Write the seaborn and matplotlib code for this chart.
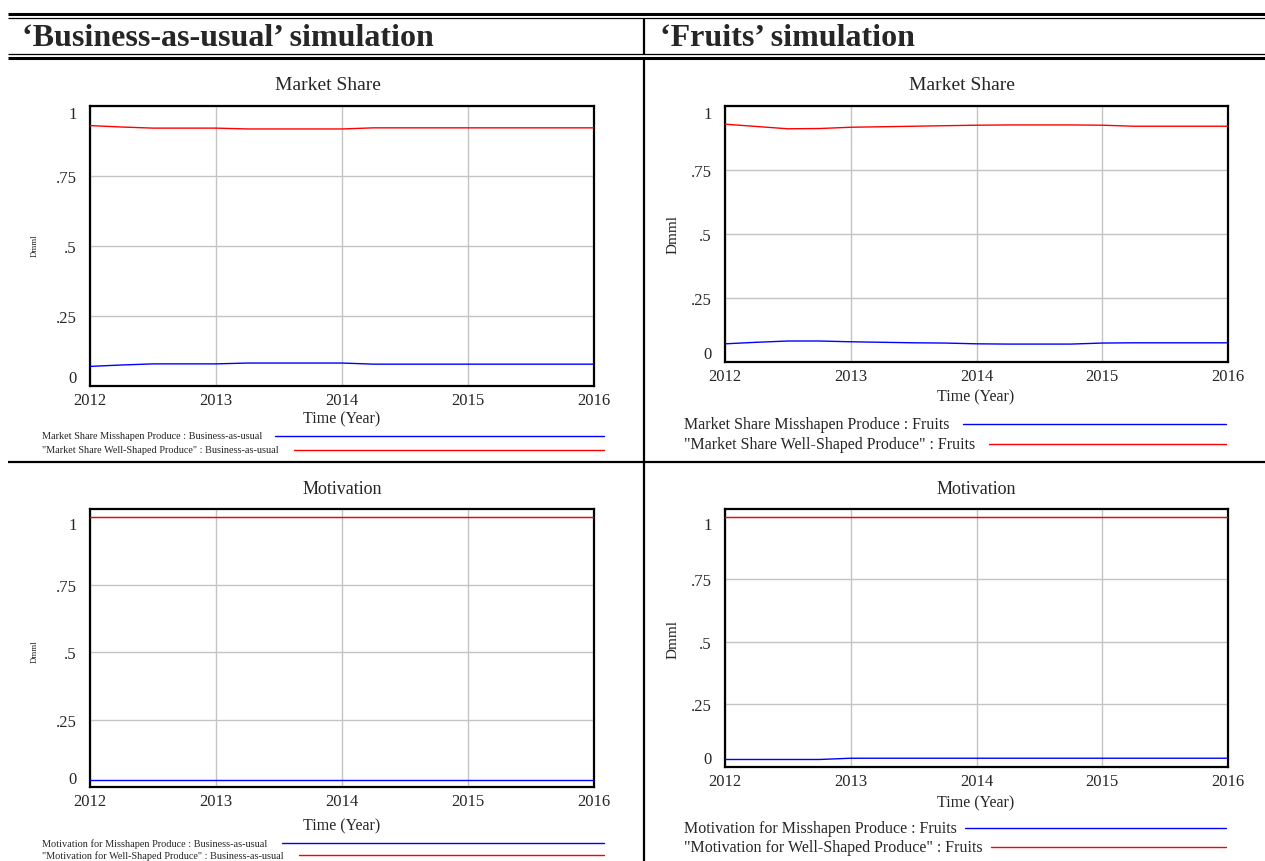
import numpy as np
import pandas as pd
import matplotlib
matplotlib.use("Agg")
import matplotlib.pyplot as plt
import seaborn as sns
from matplotlib.lines import Line2D

# ---------------- data ----------------
years = [2012.0, 2012.25, 2012.5, 2012.75, 2013.0, 2013.25, 2013.5, 2013.75, 2014.0,
         2014.25, 2014.5, 2014.75, 2015.0, 2015.25, 2015.5, 2015.75, 2016.0]

ms_mis_bau = [0.070, 0.075, 0.079, 0.079, 0.079, 0.082, 0.082, 0.082, 0.082,
              0.078, 0.078, 0.078, 0.078, 0.078, 0.078, 0.078, 0.078]
ms_well_bau = [0.930, 0.925, 0.921, 0.921, 0.921, 0.918, 0.918, 0.918, 0.918,
               0.922, 0.922, 0.922, 0.922, 0.922, 0.922, 0.922, 0.922]

ms_mis_fr = [0.071, 0.077, 0.082, 0.082, 0.079, 0.077, 0.075, 0.074, 0.071,
             0.070, 0.070, 0.070, 0.074, 0.075, 0.075, 0.075, 0.075]
ms_well_fr = [0.929, 0.920, 0.911, 0.912, 0.917, 0.919, 0.921, 0.923, 0.925,
              0.926, 0.926, 0.926, 0.925, 0.921, 0.921, 0.921, 0.921]

mot_mis_bau = [0.025] * 17
mot_well_bau = [1.0] * 17

mot_mis_fr = [0.030, 0.030, 0.030, 0.030, 0.035, 0.035, 0.035, 0.035, 0.035,
              0.035, 0.035, 0.035, 0.035, 0.035, 0.035, 0.035, 0.035]
mot_well_fr = [1.0] * 17

x_ticks = [2012, 2013, 2014, 2015, 2016]
x_tick_labels = ["2012", "2013", "2014", "2015", "2016"]
y_ticks = [0, 0.25, 0.5, 0.75, 1]
y_tick_labels = ["0", ".25", ".5", ".75", "1"]

headers = ["\u2018Business-as-usual\u2019 simulation", "\u2018Fruits\u2019 simulation"]
titles = ["Market Share", "Market Share", "Motivation", "Motivation"]
legend_labels = [
    ["Market Share Misshapen Produce : Business-as-usual",
     "\"Market Share Well-Shaped Produce\" : Business-as-usual"],
    ["Market Share Misshapen Produce : Fruits",
     "\"Market Share Well-Shaped Produce\" : Fruits"],
    ["Motivation for Misshapen Produce : Business-as-usual",
     "\"Motivation for Well-Shaped Produce\" : Business-as-usual"],
    ["Motivation for Misshapen Produce : Fruits",
     "\"Motivation for Well-Shaped Produce\" : Fruits"],
]
series = [(ms_mis_bau, ms_well_bau), (ms_mis_fr, ms_well_fr),
          (mot_mis_bau, mot_well_bau), (mot_mis_fr, mot_well_fr)]

# ---------------- style ----------------
sns.set_theme(style="white")
plt.rcParams['font.family'] = ['Liberation Serif', 'DejaVu Serif']

W, H = 1265, 862
fig = plt.figure(figsize=(W / 100, H / 100), dpi=100)
fig.patch.set_facecolor("white")


def fx(x):
    return x / W


def fy(y):
    return 1 - y / H


def hline(y, x0, x1, lw):
    fig.add_artist(Line2D([fx(x0), fx(x1)], [fy(y), fy(y)], transform=fig.transFigure,
                          color="black", lw=lw, solid_capstyle="butt"))


def vline(x, y0, y1, lw):
    fig.add_artist(Line2D([fx(x), fx(x)], [fy(y0), fy(y1)], transform=fig.transFigure,
                          color="black", lw=lw, solid_capstyle="butt"))


# table borders
hline(15, 8, W, 2.2)
hline(19, 8, W, 0.9)
hline(55, 8, W, 0.9)
hline(59, 8, W, 2.2)
hline(463, 8, W, 1.6)
vline(644, 19, 55, 1.6)
vline(644, 59, H, 1.6)

fig.text(fx(22), fy(38), headers[0], fontsize=23, fontweight="bold", va="center", ha="left")
fig.text(fx(660), fy(38), headers[1], fontsize=23, fontweight="bold", va="center", ha="left")

panels = [
    dict(box=(90, 107, 594, 387), ytop=1.0, title=(328, 85), xlab=(342, 419), ylab=(35, 246, 6.3),
         leg_y=(437, 451), leg_x=42, leg_fs=7.4, leg_lines=[(275, 604), (294, 604)]),
    dict(box=(725, 107, 1228, 363), ytop=1.0, title=(962, 85), xlab=(976, 397), ylab=(673, 234, 11),
         leg_y=(425, 445), leg_x=684, leg_fs=11.5, leg_lines=[(963, 1226), (989, 1226)]),
    dict(box=(90, 510, 594, 788), ytop=1.03, title=(342, 490), xlab=(342, 826), ylab=(35, 652, 6.3),
         leg_y=(844, 856), leg_x=42, leg_fs=7.4, leg_lines=[(282, 604), (299, 604)]),
    dict(box=(725, 510, 1228, 768), ytop=1.03, title=(976, 490), xlab=(976, 803), ylab=(673, 640, 11),
         leg_y=(829, 848), leg_x=684, leg_fs=11.5, leg_lines=[(965, 1226), (991, 1226)]),
]
title_sizes = [14, 14, 13, 13]

colors = ["#0000ff", "#ff0000"]

for i, p in enumerate(panels):
    l, t, r, b = p["box"]
    ax = fig.add_axes([fx(l), fy(b), (r - l) / W, (b - t) / H])
    s_mis, s_well = series[i]
    df = pd.DataFrame({
        "Time": years + years,
        "value": list(s_mis) + list(s_well),
        "series": [legend_labels[i][0]] * len(years) + [legend_labels[i][1]] * len(years),
    })
    sns.lineplot(data=df, x="Time", y="value", hue="series", palette=colors, ax=ax,
                 legend=False, linewidth=1.0, zorder=3)
    ax.set_xlim(2012, 2016)
    ax.set_ylim(0, p["ytop"])
    ax.set_xticks(x_ticks)
    ax.set_xticklabels(x_tick_labels, fontsize=12)
    ax.set_yticks(y_ticks)
    ax.set_yticklabels(y_tick_labels, fontsize=12)
    ax.set_xlabel("")
    ax.set_ylabel("")
    ax.grid(True, color="#c4c4c4", lw=1.0)
    ax.set_axisbelow(True)
    ax.tick_params(axis="both", length=0)
    ax.tick_params(axis="y", pad=9.5)
    ax.tick_params(axis="x", pad=4)
    ticks = ax.yaxis.get_major_ticks()
    ticks[0].label1.set_va("bottom")
    ticks[-1].label1.set_va("top")
    for sp in ax.spines.values():
        sp.set_color("black")
        sp.set_linewidth(1.6)
        sp.set_visible(True)
    ax.set_facecolor("white")

    fig.text(fx(p["title"][0]), fy(p["title"][1]), titles[i], fontsize=title_sizes[i],
             ha="center", va="center")
    fig.text(fx(p["xlab"][0]), fy(p["xlab"][1]), "Time (Year)", fontsize=11.5, ha="center", va="center")
    fig.text(fx(p["ylab"][0]), fy(p["ylab"][1]), "Dmml", fontsize=p["ylab"][2], ha="center",
             va="center", rotation=90)
    for k in range(2):
        fig.text(fx(p["leg_x"]), fy(p["leg_y"][k]), legend_labels[i][k], fontsize=p["leg_fs"],
                 ha="left", va="center")
        x0, x1 = p["leg_lines"][k]
        fig.add_artist(Line2D([fx(x0), fx(x1)], [fy(p["leg_y"][k]), fy(p["leg_y"][k])],
                              transform=fig.transFigure, color=colors[k], lw=1.0))

fig.savefig("out.png", dpi=100, facecolor="white")
